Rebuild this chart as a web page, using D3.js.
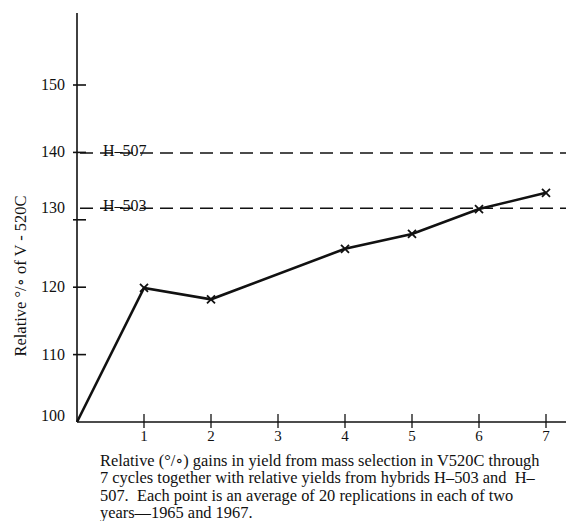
<!DOCTYPE html>
<html>
<head>
<meta charset="utf-8">
<script src="https://cdn.jsdelivr.net/npm/d3@7"></script>
<style>
body { margin: 0; background: #fff; }
svg text { font-family: "Liberation Serif", "DejaVu Serif", serif; fill: #111; }
</style>
</head>
<body>
<svg id="chart" width="566" height="521"></svg>
<script>
// cycles of mass selection and relative yield (% of V-520C)
var cycles = [0, 1, 2, 4, 5, 6, 7];
var yields = [100, 119.9, 118.2, 125.7, 127.9, 131.6, 134.0];

// hybrid reference lines
var hybrids = ["H-507", "H-503"];
var hybridYields = [139.9, 131.7];

var xTicks = [1, 2, 3, 4, 5, 6, 7];
var yTicks = [100, 110, 120, 130, 140, 150];

var caption = [
    "Relative (\u00B0/\u2218) gains in yield from mass selection in V520C through",
    "7 cycles together with relative yields from hybrids H\u2013503 and  H\u2013",
    "507.  Each point is an average of 20 replications in each of two",
    "years\u20141965 and 1967."
];

var svg = d3.select("#chart");

var x = d3.scaleLinear().domain([0, 7]).range([77, 546]);
var y = d3.scaleLinear().domain([100, 150]).range([422, 85]);

// axes lines (run past the last tick like in the print)
svg.append("line")
    .attr("x1", x(0)).attr("x2", 566)
    .attr("y1", y(100)).attr("y2", y(100))
    .attr("stroke", "#111").attr("stroke-width", 1.6);

svg.append("line")
    .attr("x1", x(0)).attr("x2", x(0))
    .attr("y1", y(100)).attr("y2", 13)
    .attr("stroke", "#111").attr("stroke-width", 1.6);

// x ticks cross the axis
svg.selectAll(".xtick")
    .data(xTicks).enter()
    .append("line")
        .attr("class", "xtick")
        .attr("x1", function(d) { return x(d); })
        .attr("x2", function(d) { return x(d); })
        .attr("y1", y(100) - 8)
        .attr("y2", y(100) + 6)
        .attr("stroke", "#111").attr("stroke-width", 1.3);

svg.selectAll(".xlabel")
    .data(xTicks).enter()
    .append("text")
        .attr("class", "xlabel")
        .attr("x", function(d) { return x(d); })
        .attr("y", 441)
        .attr("text-anchor", "middle")
        .style("font-size", "15px")
        .text(function(d) { return d; });

// y ticks
svg.selectAll(".ytick")
    .data(yTicks.slice(1)).enter()
    .append("line")
        .attr("class", "ytick")
        .attr("x1", x(0) - 4)
        .attr("x2", x(0) + 9)
        .attr("y1", function(d) { return y(d); })
        .attr("y2", function(d) { return y(d); })
        .attr("stroke", "#111").attr("stroke-width", 1.6);

svg.selectAll(".ylabel")
    .data(yTicks).enter()
    .append("text")
        .attr("class", "ylabel")
        .attr("x", 65)
        .attr("y", function(d) {
            // the printed 130 label sits up at the H-503 line, 100 above the axis
            if (d == 130) return y(131.8) + 5;
            if (d == 100) return y(100) - 1;
            return y(d) + 5;
        })
        .attr("text-anchor", "end")
        .style("font-size", "16px")
        .text(function(d) { return d; });

svg.append("text")
    .attr("transform", "translate(26," + 276 + ") rotate(-90)")
    .attr("text-anchor", "middle")
    .style("font-size", "16.5px")
    .text("Relative \u00B0/\u2218 of V - 520C");

// dashed hybrid lines
svg.selectAll(".hybrid")
    .data(hybridYields).enter()
    .append("line")
        .attr("class", "hybrid")
        .attr("x1", x(0) + 3).attr("x2", 566)
        .attr("y1", function(d) { return y(d); })
        .attr("y2", function(d) { return y(d); })
        .attr("stroke", "#111").attr("stroke-width", 1.5)
        .attr("stroke-dasharray", "13,7");

svg.selectAll(".hlabel")
    .data(hybrids).enter()
    .append("text")
        .attr("class", "hlabel")
        .attr("x", 103)
        .attr("y", function(d, i) { return y(hybridYields[i]) + 3; })
        .style("font-size", "16px")
        .text(function(d) { return d.replace("-", "\u2013"); });

// selection series
var pts = cycles.map(function(c, i) { return [c, yields[i]]; });

var line = d3.line()
    .x(function(d) { return x(d[0]); })
    .y(function(d) { return y(d[1]); });

svg.append("path")
    .datum(pts)
    .attr("d", line)
    .attr("fill", "none")
    .attr("stroke", "#111")
    .attr("stroke-width", 2.6);

var s = 4;
svg.selectAll(".mark")
    .data(pts.slice(1)).enter()
    .append("path")
        .attr("class", "mark")
        .attr("d", function(d) {
            var cx = x(d[0]), cy = y(d[1]);
            return "M" + (cx - s) + "," + (cy - s) + "L" + (cx + s) + "," + (cy + s) +
                   "M" + (cx - s) + "," + (cy + s) + "L" + (cx + s) + "," + (cy - s);
        })
        .attr("stroke", "#111")
        .attr("stroke-width", 1.8);

// caption
svg.selectAll(".cap")
    .data(caption).enter()
    .append("text")
        .attr("class", "cap")
        .attr("x", 100)
        .attr("y", function(d, i) { return 466 + i * 17.3; })
        .style("font-size", "16.4px")
        .style("white-space", "pre")
        .text(function(d) { return d; });
</script>
</body>
</html>
